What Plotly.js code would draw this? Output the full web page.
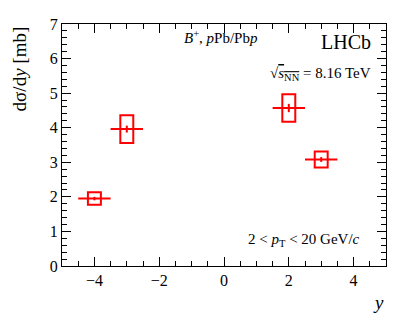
<!DOCTYPE html>
<html>
<head>
<meta charset="utf-8">
<script src="https://cdn.plot.ly/plotly-3.0.1.min.js"></script>
<style>body{margin:0;background:#fff}#plot{width:407px;height:322px}</style>
</head>
<body>
<div id="plot"></div>
<script>
// rapidity bins and measured cross-sections
var rapidity = [-4, -3, 2, 3];
var xsec = [1.95, 3.96, 4.57, 3.08];
var statErr = [0.05, 0.1, 0.12, 0.07];
var systErr = [0.18, 0.4, 0.4, 0.23];
var binHalfWidth = [0.5, 0.5, 0.5, 0.5];

var red = 'rgb(255,0,0)';
var serif = 'Liberation Serif, Times New Roman, serif';

// systematic boxes
var boxes = {
  x: rapidity,
  base: xsec.map((v, i) => v - systErr[i]),
  y: systErr.map(s => 2 * s),
  type: 'bar',
  width: 0.4,
  marker: {color: 'rgba(0,0,0,0)', line: {color: red, width: 2}},
  hoverinfo: 'skip'
};

// points with stat errors and bin widths
var points = {
  x: rapidity,
  y: xsec,
  mode: 'markers',
  type: 'scatter',
  marker: {color: red, size: 1},
  error_x: {type: 'data', array: binHalfWidth, color: red, thickness: 2, width: 0},
  error_y: {type: 'data', array: statErr, color: red, thickness: 2, width: 0}
};

var data = [boxes, points];

var layout = {
  width: 407,
  height: 322,
  showlegend: false,
  paper_bgcolor: 'white',
  plot_bgcolor: 'white',
  margin: {l: 62, r: 21, t: 24, b: 56},
  font: {family: serif, color: 'black', size: 16},
  xaxis: {
    range: [-5, 5],
    dtick: 2,
    ticks: 'inside',
    ticklen: 9,
    tickwidth: 1,
    tickcolor: 'black',
    showline: true,
    linecolor: 'black',
    linewidth: 1,
    mirror: 'allticks',
    showgrid: false,
    zeroline: false,
    minor: {dtick: 0.5, ticks: 'inside', ticklen: 5, tickcolor: 'black', showgrid: false},
    tickfont: {size: 16}
  },
  yaxis: {
    range: [0, 7],
    dtick: 1,
    ticks: 'inside',
    ticklen: 9,
    tickwidth: 1,
    tickcolor: 'black',
    showline: true,
    linecolor: 'black',
    linewidth: 1,
    mirror: 'allticks',
    showgrid: false,
    zeroline: false,
    minor: {dtick: 0.2, ticks: 'inside', ticklen: 5, tickcolor: 'black', showgrid: false},
    tickfont: {size: 16}
  },
  annotations: [
    {xref: 'paper', yref: 'paper', x: -0.13, y: 1.0, xanchor: 'center', yanchor: 'top',
     textangle: -90, text: 'dσ/d<i>y</i> [mb]', showarrow: false, font: {size: 19}},
    {xref: 'paper', yref: 'paper', x: 1.0, y: -0.1, xanchor: 'right', yanchor: 'top',
     text: '<i>y</i>', showarrow: false, font: {size: 19}},
    {xref: 'paper', yref: 'paper', x: 0.96, y: 0.98, xanchor: 'right', yanchor: 'top',
     text: 'LHCb', showarrow: false, font: {size: 20}},
    {xref: 'paper', yref: 'paper', x: 0.61, y: 0.99, xanchor: 'right', yanchor: 'top',
     text: '<i>B</i><sup>+</sup>, <i>p</i>Pb/Pb<i>p</i>', showarrow: false, font: {size: 15}},
    {xref: 'paper', yref: 'paper', x: 0.96, y: 0.84, xanchor: 'right', yanchor: 'top',
     text: '√<span style="text-decoration:overline"><i>s</i><sub>NN</sub></span> = 8.16 TeV', showarrow: false, font: {size: 15}},
    {xref: 'paper', yref: 'paper', x: 0.925, y: 0.06, xanchor: 'right', yanchor: 'bottom',
     text: '2 < <i>p</i><sub>T</sub> < 20 GeV/<i>c</i>', showarrow: false, font: {size: 15}}
  ]
};

Plotly.newPlot('plot', data, layout, {displayModeBar: false, staticPlot: true});
</script>
</body>
</html>
